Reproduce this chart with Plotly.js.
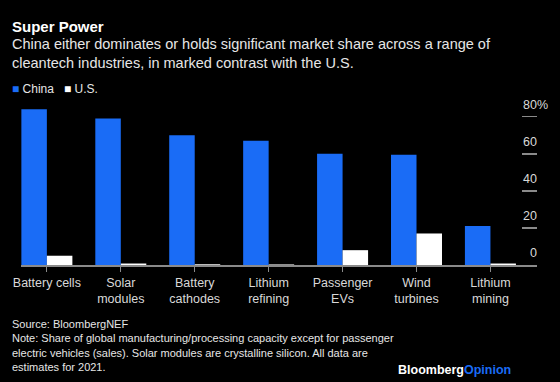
<!DOCTYPE html>
<html>
<head>
<meta charset="utf-8">
<script src="https://cdn.plot.ly/plotly-3.0.1.min.js"></script>
<style>html,body{margin:0;padding:0;background:#000;}#chart{width:560px;height:382px;}</style>
</head>
<body>
<div id="chart"></div>
<script>
const categories = ["Battery cells", "Solar<br>modules", "Battery<br>cathodes", "Lithium<br>refining", "Passenger<br>EVs", "Wind<br>turbines", "Lithium<br>mining"];
const chinaShare = [84, 79, 70, 67, 60, 59.5, 21];
const usShare = [5, 0.8, 0.4, 0.3, 8, 17, 0.8];
const yTickVals = [0, 20, 40, 60, 80];
const yTickText = ["0", "20", "40", "60", "80%"];

const FONT = "Liberation Sans, Arial, Helvetica, sans-serif";
const BLUE = "#1a6cf6";
const GRAY = "#8a8a8a";
// pad single-digit labels with an invisible digit so the numbers line up on the right
const padLabel = t => (t.replace("%", "").length === 1 ? "<span style='color:#000'>0</span>" + t : t);

// plot area in page pixels (for placing the text blocks around it)
const PL = 21, PR = 537, PT = 100, PB = 265;
const px = X => (X - PL) / (PR - PL);
const py = Y => (PB - Y) / (PB - PT);

const traces = [
  {type: "bar", name: "China", x: categories.map((c, i) => i), y: chinaShare, marker: {color: BLUE}, showlegend: false, hoverinfo: "none"},
  {type: "bar", name: "U.S.", x: categories.map((c, i) => i), y: usShare, marker: {color: "#ffffff"}, showlegend: false, hoverinfo: "none"}
];

const layout = {
  width: 560, height: 382,
  paper_bgcolor: "#000", plot_bgcolor: "#000",
  margin: {l: PL, r: 560 - PR, t: PT, b: 382 - PB},
  barmode: "group", bargap: 0.31, bargroupgap: 0,
  font: {family: FONT, color: "#d9d9d9", size: 12.5},
  title: {
    text: "<b>Super Power</b>",
    x: 12 / 560, xanchor: "left", xref: "container",
    y: 1 - 27 / 382, yanchor: "middle", yref: "container",
    font: {family: FONT, size: 15, color: "#ffffff"}
  },
  xaxis: {
    range: [-0.35, 6.63],
    tickvals: categories.map((c, i) => i),
    ticktext: categories,
    showline: true, linecolor: GRAY, linewidth: 1.5,
    ticks: "outside", ticklen: 5, tickcolor: GRAY, tickwidth: 1,
    showgrid: false, zeroline: false,
    tickfont: {family: FONT, size: 12.5, color: "#d9d9d9"},
    fixedrange: true
  },
  yaxis: {
    range: [0, 89],
    side: "right",
    tickvals: yTickVals,
    ticktext: yTickText.map(padLabel),
    ticks: "inside", ticklen: 15, tickcolor: GRAY, tickwidth: 1.5,
    ticklabelposition: "outside",
    ticklabelshift: -12,
    ticklabelstandoff: -15,
    showgrid: false, zeroline: false, showline: false,
    tickfont: {family: FONT, size: 12.5, color: "#d9d9d9"},
    fixedrange: true
  },
  annotations: [
    {xref: "paper", yref: "paper", x: px(12), y: py(53.5), xanchor: "left", yanchor: "middle", align: "left", showarrow: false, xshift: -2,
     text: "China either dominates or holds significant market share across a range of<br>cleantech industries, in marked contrast with the U.S.",
     font: {family: FONT, size: 14.5, color: "#e6e6e6"}},
    {xref: "paper", yref: "paper", x: px(12), y: py(89), xanchor: "left", yanchor: "middle", align: "left", showarrow: false, xshift: -2,
     text: "<span style='color:" + BLUE + "'>■</span> China   <span style='color:#fff'>■</span> U.S.",
     font: {family: FONT, size: 12, color: "#e6e6e6"}},
    {xref: "paper", yref: "paper", x: px(12), y: py(345.5), xanchor: "left", yanchor: "middle", align: "left", showarrow: false, xshift: -2,
     text: "Source: BloombergNEF<br>Note: Share of global manufacturing/processing capacity except for passenger<br>electric vehicles (sales). Solar modules are crystalline silicon. All data are<br>estimates for 2021.",
     font: {family: FONT, size: 11, color: "#e6e6e6"}},
    {xref: "paper", yref: "paper", x: px(511), y: py(370), xanchor: "right", yanchor: "middle", showarrow: false, xshift: 2,
     text: "<b>Bloomberg</b><b><span style='color:" + BLUE + "'>Opinion</span></b>",
     font: {family: FONT, size: 12.5, color: "#ffffff"}}
  ]
};

Plotly.newPlot("chart", traces, layout, {displayModeBar: false, staticPlot: true});
</script>
</body>
</html>
